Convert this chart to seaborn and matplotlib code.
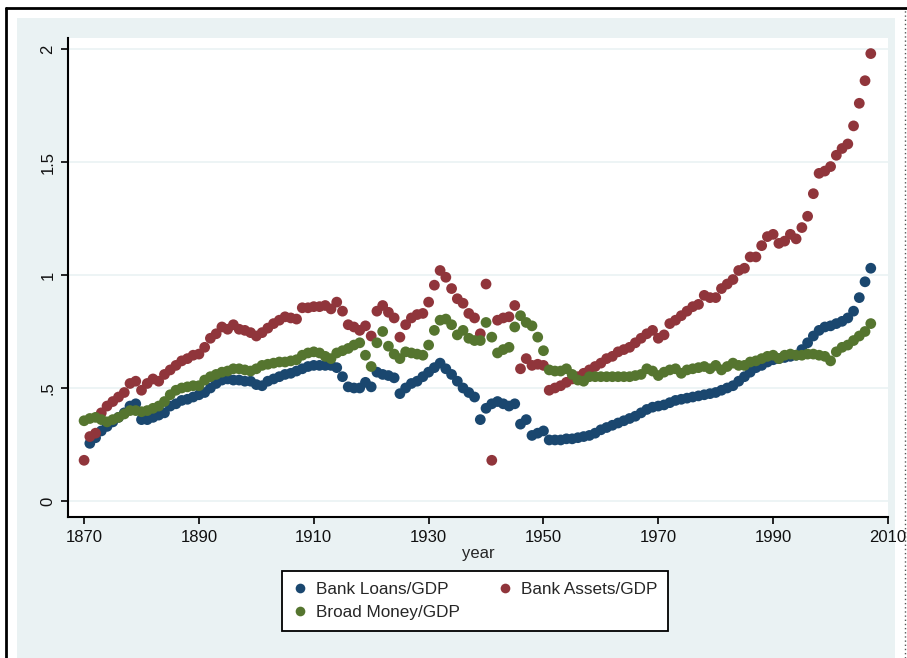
import numpy as np
import pandas as pd
import seaborn as sns
import matplotlib
matplotlib.use('Agg')
import matplotlib.pyplot as plt
from matplotlib.patches import Rectangle
from matplotlib.lines import Line2D

years = list(range(1870, 2008))

bank_loans = [
    np.nan, .255, .28, .31, .33, .35, .37, .39, .42, .43,
    .36, .36, .37, .38, .39, .42, .43, .445, .45, .46,
    .47, .48, .50, .52, .535, .54, .535, .535, .53, .53,
    .515, .51, .53, .54, .55, .56, .565, .575, .585, .595,
    .60, .60, .60, .60, .59, .55, .505, .50, .50, .525,
    .505, .57, .56, .555, .545, .475, .50, .52, .53, .55,
    .57, .59, .61, .585, .56, .53, .50, .48, .46, .36,
    .41, .43, .44, .43, .42, .43, .34, .36, .29, .30,
    .31, .27, .27, .27, .275, .275, .28, .285, .29, .30,
    .315, .325, .335, .345, .355, .365, .375, .39, .405, .415,
    .42, .425, .435, .445, .45, .455, .46, .465, .47, .475,
    .48, .49, .50, .51, .53, .55, .57, .59, .60, .615,
    .625, .63, .635, .64, .645, .67, .70, .73, .755, .77,
    .775, .785, .795, .81, .84, .90, .97, 1.03,
]

bank_assets = [
    .18, .285, .30, .39, .42, .44, .46, .48, .52, .53,
    .49, .52, .54, .53, .56, .58, .60, .62, .63, .645,
    .65, .68, .72, .74, .77, .76, .78, .76, .755, .745,
    .73, .745, .765, .785, .80, .815, .81, .805, .855, .855,
    .86, .86, .865, .85, .88, .84, .78, .77, .755, .775,
    .73, .84, .865, .835, .81, .725, .78, .81, .825, .83,
    .88, .955, 1.02, .99, .94, .895, .875, .83, .81, .74,
    .96, .18, .80, .81, .815, .865, .585, .63, .60, .605,
    .60, .49, .50, .51, .525, .54, .55, .565, .58, .595,
    .61, .63, .64, .66, .67, .68, .70, .72, .74, .755,
    .72, .735, .785, .80, .82, .84, .86, .87, .91, .90,
    .90, .94, .96, .98, 1.02, 1.03, 1.08, 1.08, 1.13, 1.17,
    1.18, 1.14, 1.15, 1.18, 1.16, 1.21, 1.26, 1.36, 1.45, 1.46,
    1.48, 1.53, 1.56, 1.58, 1.66, 1.76, 1.86, 1.98,
]

broad_money = [
    .355, .365, .37, .36, .35, .36, .37, .385, .40, .40,
    .395, .40, .41, .42, .44, .47, .49, .50, .505, .51,
    .51, .535, .55, .56, .57, .575, .585, .585, .58, .575,
    .585, .60, .605, .61, .615, .615, .62, .625, .645, .655,
    .66, .655, .64, .63, .655, .665, .675, .69, .70, .645,
    .595, .70, .75, .685, .65, .63, .66, .655, .65, .645,
    .69, .755, .80, .805, .78, .735, .755, .72, .71, .71,
    .79, .725, .655, .67, .68, .77, .82, .79, .775, .725,
    .665, .58, .575, .575, .585, .56, .535, .53, .55, .55,
    .55, .55, .55, .55, .55, .55, .555, .56, .585, .575,
    .555, .57, .58, .585, .565, .58, .585, .59, .595, .585,
    .60, .58, .595, .61, .60, .60, .615, .62, .63, .64,
    .645, .63, .645, .65, .645, .645, .65, .65, .645, .64,
    .62, .66, .68, .69, .71, .73, .75, .785,
]

series_names = ["Bank Loans/GDP", "Bank Assets/GDP", "Broad Money/GDP"]
series_colors = ["#1a476f", "#90353b", "#55752f"]
x_ticks = [1870, 1890, 1910, 1930, 1950, 1970, 1990, 2010]
y_ticks = [0, 0.5, 1, 1.5, 2]
y_tick_labels = ["0", ".5", "1", "1.5", "2"]

# long-form table, broad money last so it is drawn on top
frames = []
for name, vals in zip(series_names, [bank_loans, bank_assets, broad_money]):
    frames.append(pd.DataFrame({"year": years, "value": vals, "series": name}))
df = pd.concat(frames, ignore_index=True).dropna()

sns.set_style("white")
plt.rcParams['font.family'] = ['Liberation Sans', 'DejaVu Sans']

W, H = 907, 658
fig = plt.figure(figsize=(W / 100, H / 100), dpi=100, facecolor="white")

# stata-like outer panel (behind the axes)
fig.patches.append(Rectangle((17 / W, 0), (895 - 17) / W, 1 - 18 / H,
                             transform=fig.transFigure, facecolor="#eaf2f3",
                             edgecolor="none", zorder=-5))
fig.add_artist(Line2D([6 / W, 1], [1 - 8 / H, 1 - 8 / H], color="black", lw=2,
                      transform=fig.transFigure, zorder=-4))
fig.add_artist(Line2D([6 / W, 6 / W], [0, 1 - 8 / H], color="black", lw=2,
                      transform=fig.transFigure, zorder=-4))
fig.add_artist(Line2D([905 / W, 905 / W], [0, 1 - 8 / H], color="#555555", lw=1,
                      ls=(0, (1, 2)), transform=fig.transFigure, zorder=5))

ax = fig.add_axes([68 / W, 1 - 517 / H, (888 - 68) / W, (517 - 38) / H])
ax.set_facecolor("white")

sns.scatterplot(data=df, x="year", y="value", hue="series",
                palette=dict(zip(series_names, series_colors)),
                s=60, linewidth=0, alpha=1, ax=ax, zorder=3)

ax.set_xlim(1867.2, 2010)
ax.set_ylim(-0.071, 2.049)
ax.set_xticks(x_ticks)
ax.set_yticks(y_ticks)
ax.set_yticklabels(y_tick_labels, rotation=90, va="center")
for lab in ax.get_xticklabels() + ax.get_yticklabels():
    lab.set_fontsize(12)
    lab.set_color("#111111")
ax.tick_params(axis="both", direction="out", length=5, width=1.2, color="black",
               left=True, bottom=True, pad=4)
ax.grid(axis="y", color="#eaf2f3", lw=1.2)
ax.grid(axis="x", visible=False)
for side in ["top", "right"]:
    ax.spines[side].set_visible(False)
for side in ["left", "bottom"]:
    ax.spines[side].set_color("black")
    ax.spines[side].set_linewidth(1.5)
ax.set_xlabel("year", fontsize=12, labelpad=1)
ax.set_ylabel("")

handles, labels = ax.get_legend_handles_labels()
ax.get_legend().remove()
order = [0, 2, 1]
leg = fig.legend([handles[i] for i in order], [labels[i] for i in order],
                 loc="center", bbox_to_anchor=(475 / W, 1 - 601 / H), ncol=2,
                 frameon=True, fancybox=False, fontsize=12.3, markerscale=0.9,
                 handletextpad=0.5, columnspacing=2.2, labelspacing=0.5,
                 borderpad=0.6, borderaxespad=0, handlelength=0.9)
leg.get_frame().set_edgecolor("black")
leg.get_frame().set_linewidth(1.3)
leg.get_frame().set_facecolor("white")
leg.get_frame().set_alpha(1)

fig.savefig("out.png", dpi=100, facecolor=fig.get_facecolor())
